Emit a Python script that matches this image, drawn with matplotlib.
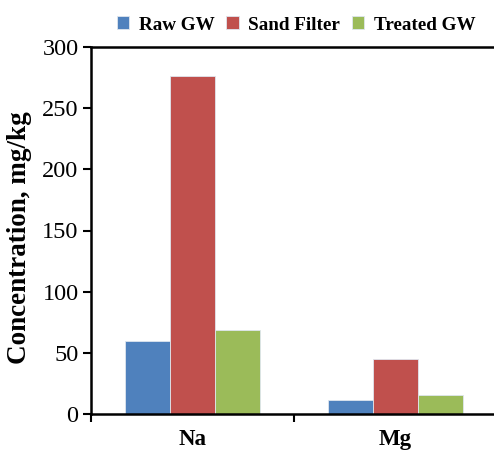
import numpy as np
import matplotlib.pyplot as plt

plt.rcParams['font.family'] = ['Liberation Serif', 'DejaVu Serif']

# data
elements = ['Na', 'Mg']
series_names = ['Raw GW', 'Sand Filter', 'Treated GW']
raw_gw = [59.7, 11.4]
sand_filter = [276.5, 44.7]
treated_gw = [68.7, 15.3]
colors = ['#4F81BD', '#C0504D', '#9BBB59']
y_ticks = [0, 50, 100, 150, 200, 250, 300]

fig = plt.figure(figsize=(4.94, 4.5), dpi=100)
ax = fig.add_axes([91 / 494, 36 / 450, 406 / 494, 367 / 450])

x = np.arange(len(elements))
width = 0.222
all_series = [raw_gw, sand_filter, treated_gw]
for i, vals in enumerate(all_series):
    ax.bar(x + (i - 1) * width, vals, width, color=colors[i],
           edgecolor='#dfe6ee', linewidth=0.6, label=series_names[i])

ax.set_xlim(-0.5, 1.5)
ax.set_ylim(0, 300)
ax.set_yticks(y_ticks)
ax.set_yticklabels([str(v) for v in y_ticks], fontsize=17.5)

# category labels centred, tick marks at category boundaries
ax.set_xticks(x)
ax.set_xticklabels(elements, fontsize=16.5, fontweight='bold')
ax.tick_params(axis='x', length=0, pad=11)
ax.set_xticks([-0.5, 0.5, 1.5], minor=True)
ax.tick_params(axis='x', which='minor', length=6, width=1.5, direction='out')
ax.tick_params(axis='y', length=6, width=1.5, direction='out', pad=3)

for s in ['left', 'bottom', 'top']:
    ax.spines[s].set_linewidth(1.8)
ax.spines['right'].set_visible(False)

ax.set_ylabel('Concentration, mg/kg', fontsize=19.5, fontweight='bold')
ax.yaxis.set_label_coords(-0.145, 0.48)

ax.legend(loc='lower center', bbox_to_anchor=(0.505, 1.0), ncol=3, frameon=False,
          prop={'size': 13.8, 'weight': 'bold'}, handlelength=0.65, handleheight=0.65,
          handletextpad=0.5, columnspacing=0.6, borderaxespad=0.3)

fig.savefig('out.png', dpi=100)
